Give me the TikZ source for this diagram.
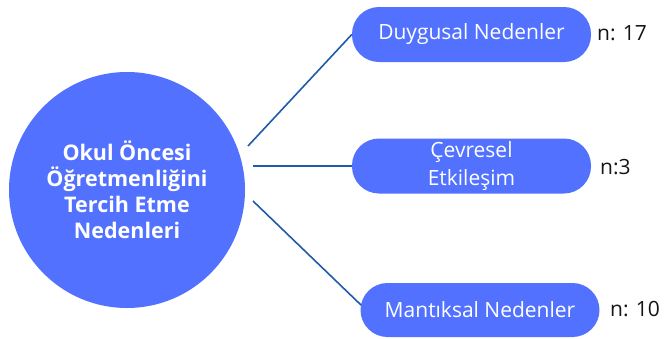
\documentclass[tikz,border=0pt]{standalone}
\usepackage{fontspec}
\setmainfont{Open Sans}
\definecolor{blobblue}{HTML}{5271FF}
\definecolor{linkblue}{HTML}{1F5BAA}
\definecolor{inkdark}{HTML}{151515}
\begin{document}
\begin{tikzpicture}[x=1pt,y=-1pt,
  hub/.style={circle,fill=blobblue,minimum size=236pt,inner sep=0pt,text=white,
    font=\fontsize{21.5}{26}\selectfont\bfseries,align=center},
  pill/.style={fill=blobblue,rounded corners=27pt,minimum width=239pt,
    minimum height=55pt,inner sep=0pt,text=white,font=\fontsize{21}{28.5}\selectfont,align=center},
  count/.style={text=inkdark,font=\fontsize{21}{24}\selectfont,anchor=west,inner sep=0pt},
  link/.style={draw=linkblue,line width=1.6pt}]
\useasboundingbox (0,0) rectangle (664,338);
\node[hub] (hub) at (127,190) {Okul Öncesi\\Öğretmenliğini\\Tercih Etme\\Nedenleri};
\node[pill] (b1) at (471.5,34.5) {Duygusal Nedenler};
\node[pill] (b2) at (471.5,166) {Çevresel\\Etkileşim};
\node[pill,minimum height=54pt] (b3) at (480,310) {Mantıksal Nedenler};
\node[count] (n1) at (597,33) {n: 17};
\node[count] (n2) at (600,167) {n:3};
\node[count] (n3) at (610,309) {n: 10};
\coordinate (s1) at (248,146);
\coordinate (s2) at (253,166);
\coordinate (s3) at (253,201);
\coordinate (e3) at (361,305);
\draw[link] (s1) -- (b1.west);
\draw[link] (s2) -- (b2.west);
\draw[link] (s3) -- (e3);
\end{tikzpicture}
\end{document}
